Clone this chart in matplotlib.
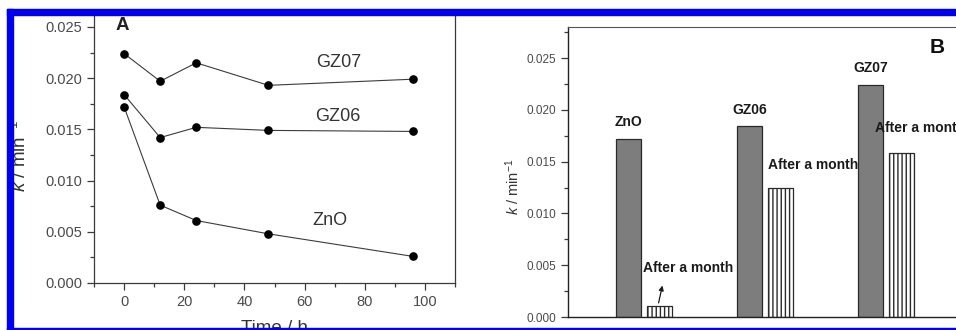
import matplotlib
matplotlib.use("Agg")
import matplotlib.pyplot as plt
from matplotlib.patches import Rectangle
from matplotlib.ticker import MultipleLocator, FormatStrFormatter

plt.rcParams['font.family'] = ['Liberation Sans', 'DejaVu Sans']
plt.rcParams['mathtext.fontset'] = 'custom'
plt.rcParams['mathtext.rm'] = 'Liberation Sans'
plt.rcParams['mathtext.it'] = 'Liberation Sans:italic'

# Panel A: rate constant vs. time
time_h = [0, 12, 24, 48, 96]
k_gz07 = [0.0224, 0.0197, 0.0215, 0.0193, 0.0199]
k_gz06 = [0.0184, 0.0142, 0.0152, 0.0149, 0.0148]
k_zno = [0.0172, 0.0076, 0.0061, 0.0048, 0.0026]
series_names = ["GZ07", "GZ06", "ZnO"]

# Panel B: fresh vs. after a month
samples = ["ZnO", "GZ06", "GZ07"]
k_fresh = [0.0172, 0.0184, 0.0224]
k_month = [0.0011, 0.0125, 0.0158]
month_label = "After a month"

W, H = 956, 330
fig = plt.figure(figsize=(W / 100, H / 100), dpi=100)
fig.patch.set_facecolor('white')

tick_col = '#4a4a4a'
spine_col = '#3a3a3a'

# ---------------- Panel A ----------------
axA = fig.add_axes([94 / W, 1 - 283 / H, 361 / W, 271.4 / H])
for ys in (k_gz07, k_gz06, k_zno):
    axA.plot(time_h, ys, '-o', color='#3c3c3c', lw=0.8, ms=5.2,
             mfc='black', mec='black')
axA.set_xlim(-10, 110)
axA.set_ylim(0, 0.0265)
axA.xaxis.set_major_locator(MultipleLocator(20))
axA.xaxis.set_minor_locator(MultipleLocator(10))
axA.yaxis.set_major_locator(MultipleLocator(0.005))
axA.yaxis.set_minor_locator(MultipleLocator(0.0025))
axA.yaxis.set_major_formatter(FormatStrFormatter('%.3f'))
axA.tick_params(which='both', direction='out', top=False, right=False,
                color=spine_col, labelcolor=tick_col, labelsize=10.5)
axA.tick_params(which='major', length=5, width=0.9)
axA.tick_params(which='minor', length=3, width=0.9)
for s in axA.spines.values():
    s.set_color(spine_col)
    s.set_linewidth(0.9)
axA.set_ylabel('$k$ / min$^{-1}$', fontsize=13.5, color='#333333')
axA.yaxis.set_label_coords(-0.178, 0.468)
axA.set_xlabel('Time / h', fontsize=13.5, color='#333333', va='top')
axA.xaxis.set_label_coords(0.5, -0.136)
label_pos = {"GZ07": (63.7, 0.0215), "GZ06": (63.4, 0.0163), "ZnO": (62.6, 0.0061)}
for name in series_names:
    x, y = label_pos[name]
    axA.text(x, y, name, fontsize=13, color='#333333', ha='left', va='center')
axA.text(-0.5, 0.0251, 'A', fontsize=13.5, fontweight='bold', ha='center',
         va='center', color='#222222')

# ---------------- Panel B ----------------
x0, dx = 644, 121
axB = fig.add_axes([568 / W, 1 - 317 / H, 432 / W, 290 / H])
pos = list(range(len(samples)))
off, bw = 0.126, 0.207
axB.bar([p - off for p in pos], k_fresh, width=bw, color='#7d7d7d',
        edgecolor='#2a2a2a', lw=0.9, zorder=2)
axB.bar([p + off for p in pos], k_month, width=bw, color='white',
        edgecolor='#2a2a2a', lw=0.9, hatch='||||', zorder=2)
axB.set_xlim((568 - x0) / dx, (1000 - x0) / dx)
axB.set_ylim(0, 0.028)
axB.set_xticks([])
axB.yaxis.set_major_locator(MultipleLocator(0.005))
axB.yaxis.set_minor_locator(MultipleLocator(0.0025))
axB.yaxis.set_major_formatter(FormatStrFormatter('%.3f'))
axB.tick_params(which='both', direction='out', color=spine_col,
                labelcolor=tick_col, labelsize=8.5)
axB.tick_params(which='major', length=5, width=0.9)
axB.tick_params(which='minor', length=3, width=0.9)
axB.spines['right'].set_visible(False)
axB.spines['top'].set_color('#555555')
for side in ('left', 'bottom'):
    axB.spines[side].set_color('#222222')
    axB.spines[side].set_linewidth(1.0)
axB.set_ylabel('$k$ / min$^{-1}$', fontsize=10.5, color='#333333')
axB.yaxis.set_label_coords(-0.106, 0.448)

for p, name, kf in zip(pos, samples, k_fresh):
    axB.text(p - off, kf + 0.00095, name, fontsize=10, fontweight='bold',
             ha='center', va='bottom', color='#1a1a1a', zorder=3)

# "After a month" annotations
axB.text(1 + off - bw / 2, k_month[1] + 0.0015, month_label, fontsize=10,
         fontweight='bold', ha='left', va='bottom', color='#1a1a1a', zorder=3)
axB.text((875 - x0) / dx, k_month[2] + 0.0018, month_label, fontsize=10,
         fontweight='bold', ha='left', va='bottom', color='#1a1a1a', zorder=3)
axB.text((643 - x0) / dx, 0.00405, month_label, fontsize=10,
         fontweight='bold', ha='left', va='bottom', color='#1a1a1a', zorder=3)
axB.annotate('', xy=((663 - x0) / dx, 0.0033),
             xytext=((658 - x0) / dx, k_month[0]),
             arrowprops=dict(arrowstyle='-|>', color='#1a1a1a', lw=0.9,
                             mutation_scale=7), zorder=3)
axB.text((937 - x0) / dx, 0.0260, 'B', fontsize=15, fontweight='bold',
         ha='center', va='center', color='#111111')

# Blue frame around the figure
blue = '#0000ee'
fig.add_artist(Rectangle((7 / W, 1 - 14.5 / H), 1, 5.5 / H,
                         transform=fig.transFigure, color=blue, zorder=10))
fig.add_artist(Rectangle((7 / W, 0), 5.5 / W, 1 - 9 / H,
                         transform=fig.transFigure, color=blue, zorder=10))
fig.add_artist(Rectangle((7 / W, 0), 1, 2 / H,
                         transform=fig.transFigure, color=blue, zorder=10))

fig.savefig('out.png', dpi=100, facecolor='white')
